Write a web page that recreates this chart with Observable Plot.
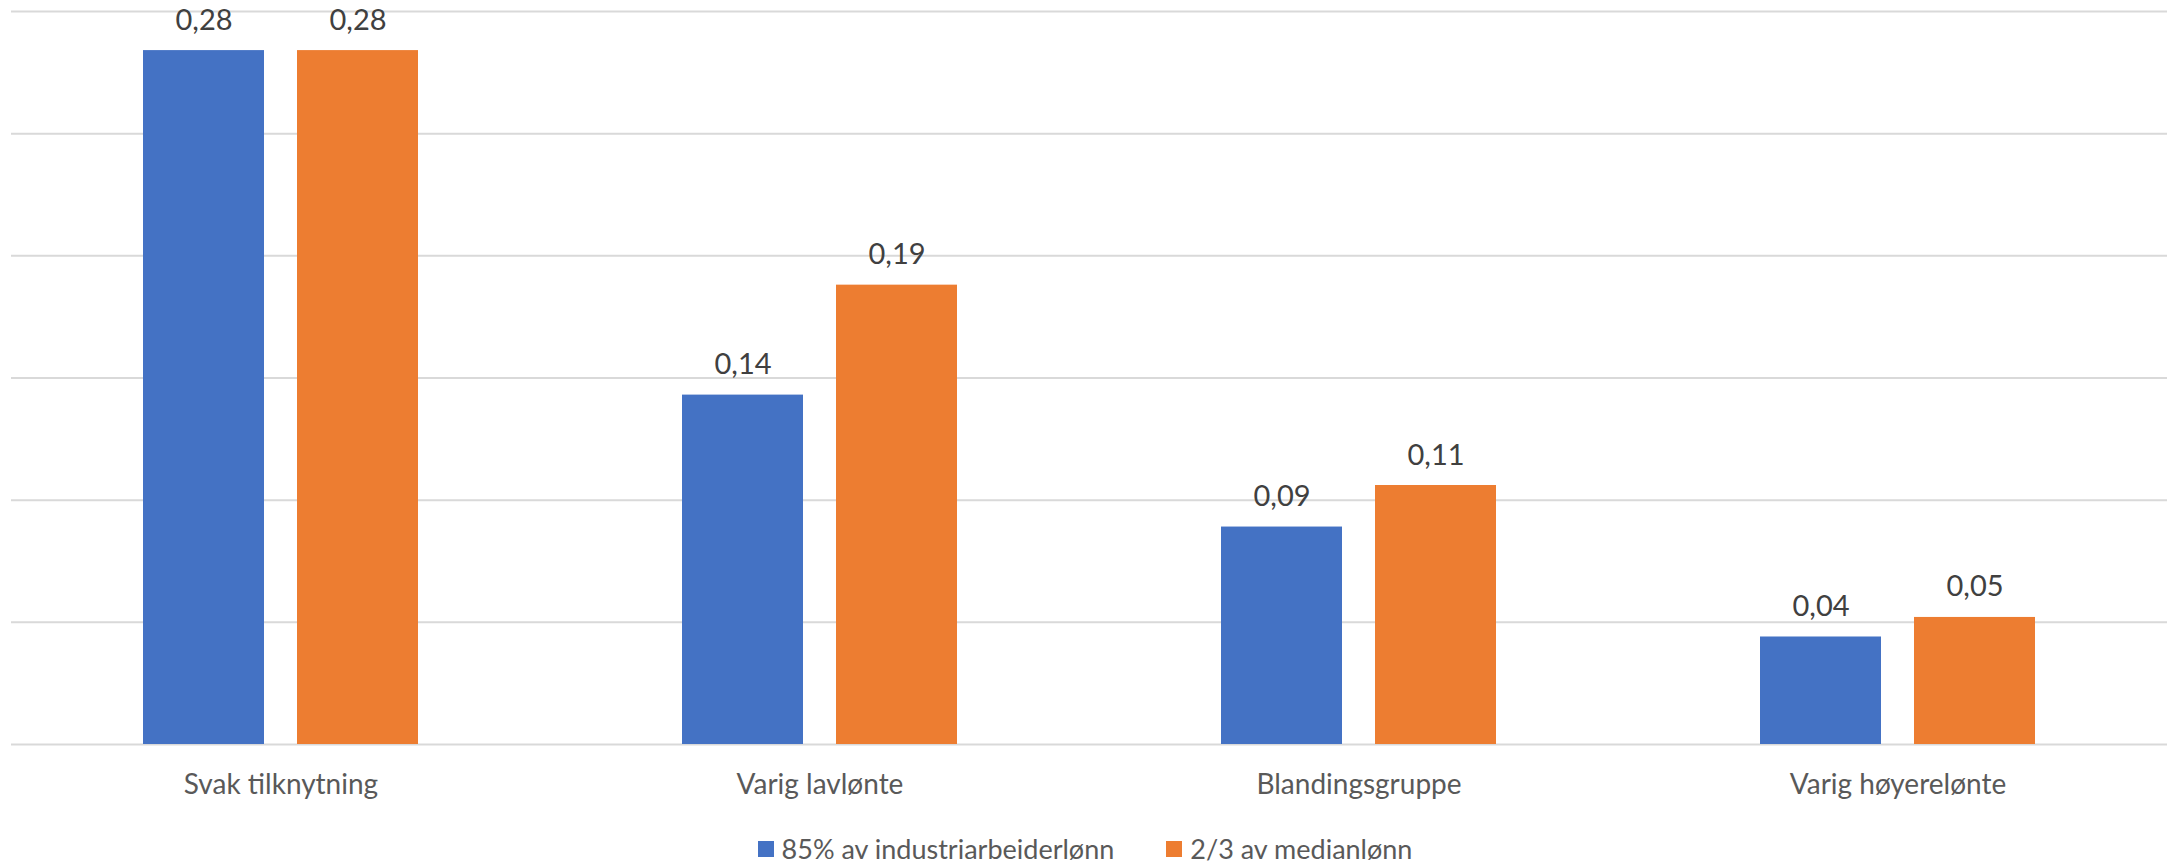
<!DOCTYPE html>
<html>
<head>
<meta charset="utf-8">
<script src="https://cdn.jsdelivr.net/npm/d3@7"></script>
<script src="https://cdn.jsdelivr.net/npm/@observablehq/plot@0.6"></script>
<style>
  html, body { margin: 0; padding: 0; background: #fff; }
  #chart svg { display: block; }
  .legend { height: 35px; box-sizing: border-box; padding-top: 10px; display: flex; justify-content: center; align-items: center; font-family: Lato, "Open Sans", sans-serif; font-size: 27px; color: #595959; line-height: 25px; }
  .legend .item { display: flex; align-items: center; }
  .legend .sw { width: 16px; height: 16px; margin-right: 8px; display: inline-block; }
  .legend .gap { width: 52px; }
</style>
</head>
<body>
<div id="chart"></div>
<div class="legend" id="legend"></div>
<script>
const categories = ["Svak tilknytning", "Varig lavlønte", "Blandingsgruppe", "Varig høyerelønte"];
const seriesNames = ["85% av industriarbeiderlønn", "2/3 av medianlønn"];
const industriValues = [0.284, 0.143, 0.089, 0.044];
const medianValues = [0.284, 0.188, 0.106, 0.052];
const gridTicks = [0, 0.05, 0.1, 0.15, 0.2, 0.25, 0.3];
const colors = ["#4472C4", "#ED7D31"];

const data = [];
categories.forEach((c, i) => {
  data.push({category: c, series: seriesNames[0], value: industriValues[i]});
  data.push({category: c, series: seriesNames[1], value: medianValues[i]});
});
const fmt = v => v.toFixed(2).replace(".", ",");
const font = "Lato, 'Open Sans', sans-serif";

const chart = Plot.plot({
  width: 2170,
  height: 826,
  marginLeft: 11,
  marginRight: 3,
  marginTop: 11,
  marginBottom: 82,
  style: {fontFamily: font, background: "#fff"},
  fx: {domain: categories, padding: 0, axis: null},
  x: {domain: seriesNames, paddingInner: 0.214, paddingOuter: 0.857, axis: null},
  y: {domain: [0, 0.3], axis: null},
  color: {domain: seriesNames, range: colors},
  marks: [
    Plot.ruleY(gridTicks, {stroke: "#D9D9D9", strokeWidth: 2}),
    Plot.barY(data, {fx: "category", x: "series", y: "value", fill: "series"}),
    Plot.text(data, {fx: "category", x: "series", y: "value", text: d => fmt(d.value), lineAnchor: "bottom", dy: -21, fontSize: 29, fill: "#404040"}),
    Plot.text(categories, {fx: d => d, frameAnchor: "bottom", text: d => d, lineAnchor: "middle", dy: 41, fontSize: 28, fill: "#595959"})
  ]
});
document.getElementById("chart").appendChild(chart);

const legend = document.getElementById("legend");
seriesNames.forEach((s, i) => {
  if (i > 0) { const g = document.createElement("span"); g.className = "gap"; legend.appendChild(g); }
  const item = document.createElement("span");
  item.className = "item";
  const sw = document.createElement("span");
  sw.className = "sw";
  sw.style.background = colors[i];
  item.appendChild(sw);
  item.appendChild(document.createTextNode(s));
  legend.appendChild(item);
});
</script>
</body>
</html>
